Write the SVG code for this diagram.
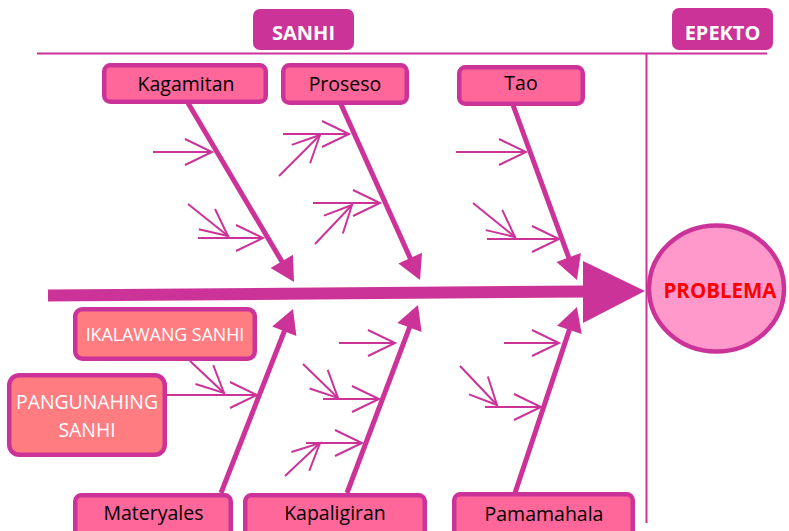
<svg xmlns="http://www.w3.org/2000/svg" width="789" height="531" viewBox="0 0 789 531">
  <defs>
    <style>
      .ink { stroke: #cc3399; }
      .rule { stroke: #cc3399; stroke-width: 2; fill: none; }
      .bone { stroke: #cc3399; stroke-width: 5; fill: none; marker-end: url(#head); }
      .twig { stroke: #cc3399; stroke-width: 2; fill: none; marker-end: url(#vee); }
      .tab { fill: #cc3399; }
      .tab-text { fill: #ffffff; font-family: "Open Sans", "Noto Sans", sans-serif; font-weight: bold; font-size: 20px; text-anchor: middle; }
      .cat { fill: #ff6699; stroke: #cc3399; stroke-width: 4.5; }
      .cat-text { fill: #000000; font-family: "Open Sans", "Noto Sans", sans-serif; font-size: 19.5px; text-anchor: middle; }
      .key { fill: #ff7c80; stroke: #cc3399; stroke-width: 4.5; }
      .key-text { fill: #ffffff; font-family: "Open Sans", "Noto Sans", sans-serif; text-anchor: middle; }
      .goal { fill: #ff99cc; stroke: #cc3399; stroke-width: 4.5; }
      .goal-text { fill: #ff0000; font-family: "Open Sans", "Noto Sans", sans-serif; font-weight: bold; font-size: 20.5px; text-anchor: middle; }
    </style>
    <!-- filled head for the main bones -->
    <marker id="head" markerUnits="userSpaceOnUse" orient="auto" overflow="visible" markerWidth="1" markerHeight="1" refX="0" refY="0">
      <path d="M-2,-13 L22,0 L-2,13 Z" fill="#cc3399"/>
    </marker>
    <!-- open head for the small cause arrows -->
    <marker id="vee" markerUnits="userSpaceOnUse" orient="auto" overflow="visible" markerWidth="1" markerHeight="1" refX="0" refY="0">
      <path d="M-27,-13 L0,0 L-27,13" fill="none" stroke="#cc3399" stroke-width="2"/>
    </marker>
  </defs>

  <rect width="789" height="531" fill="#ffffff"/>

  <!-- header rule and divider -->
  <g id="frame">
    <line class="rule" x1="37" y1="53.5" x2="767" y2="53.5"/>
    <line class="rule" x1="646.5" y1="53.5" x2="646.5" y2="523"/>
  </g>

  <g id="tab-sanhi">
    <rect class="tab" x="253" y="9" width="101" height="41" rx="7"/>
    <text class="tab-text" x="303.5" y="40">SANHI</text>
  </g>
  <g id="tab-epekto">
    <rect class="tab" x="672" y="8" width="101" height="42" rx="7"/>
    <text class="tab-text" x="722.5" y="40">EPEKTO</text>
  </g>

  <!-- connectors: spine, bones and cause arrows -->
  <g id="connectors">
    <line class="ink" x1="48" y1="295.5" x2="586" y2="291.5" stroke-width="12"/>
    <polygon points="583,261 645,291 583,323" fill="#cc3399"/>

    <line class="bone" x1="188" y1="103" x2="282.8" y2="263.1"/>
    <line class="bone" x1="340" y1="102" x2="411" y2="259.9"/>
    <line class="bone" x1="513" y1="105" x2="569.4" y2="259.3"/>
    <line class="bone" x1="221" y1="493" x2="285" y2="329.5"/>
    <line class="bone" x1="347" y1="493" x2="410.2" y2="325.6"/>
    <line class="bone" x1="515" y1="493" x2="570" y2="327.9"/>

    <!-- Kagamitan -->
    <line class="twig" x1="153" y1="152" x2="212" y2="152"/>
    <line class="twig" x1="198" y1="238" x2="263" y2="238"/>
    <line class="twig" x1="188" y1="204" x2="228" y2="236"/>
    <!-- Proseso -->
    <line class="twig" x1="283" y1="134" x2="349" y2="134"/>
    <line class="twig" x1="279" y1="176" x2="320" y2="135"/>
    <line class="twig" x1="313" y1="203" x2="380" y2="203"/>
    <line class="twig" x1="315" y1="244" x2="352" y2="205"/>
    <!-- Tao -->
    <line class="twig" x1="456" y1="152" x2="526" y2="152"/>
    <line class="twig" x1="487" y1="239" x2="559" y2="239"/>
    <line class="twig" x1="473" y1="203" x2="515" y2="237"/>
    <!-- Materyales -->
    <line class="twig" x1="167" y1="395" x2="257" y2="395"/>
    <line class="twig" x1="190" y1="361" x2="224" y2="393"/>
    <!-- Kapaligiran -->
    <line class="twig" x1="339" y1="343" x2="395" y2="343"/>
    <line class="twig" x1="323" y1="399" x2="379" y2="399"/>
    <line class="twig" x1="303" y1="364" x2="338" y2="398"/>
    <line class="twig" x1="306" y1="443" x2="362" y2="443"/>
    <line class="twig" x1="285" y1="476" x2="320" y2="443"/>
    <!-- Pamamahala -->
    <line class="twig" x1="504" y1="343" x2="559" y2="343"/>
    <line class="twig" x1="485" y1="407" x2="541" y2="407"/>
    <line class="twig" x1="460" y1="366" x2="497" y2="405"/>
  </g>

  <!-- category boxes -->
  <g id="kagamitan">
    <rect class="cat" x="104.25" y="65.25" width="161.5" height="36.5" rx="6"/>
    <text class="cat-text" x="186" y="90.5">Kagamitan</text>
  </g>
  <g id="proseso">
    <rect class="cat" x="283.25" y="65.25" width="123.5" height="37.5" rx="6"/>
    <text class="cat-text" x="345" y="91">Proseso</text>
  </g>
  <g id="tao">
    <rect class="cat" x="459.25" y="67.25" width="123.5" height="36.5" rx="6"/>
    <text class="cat-text" x="521" y="90">Tao</text>
  </g>
  <g id="materyales">
    <rect class="cat" x="75.25" y="495.25" width="155.5" height="50" rx="6"/>
    <text class="cat-text" x="153.5" y="520">Materyales</text>
  </g>
  <g id="kapaligiran">
    <rect class="cat" x="245.25" y="495.25" width="179.5" height="50" rx="6"/>
    <text class="cat-text" x="335" y="520">Kapaligiran</text>
  </g>
  <g id="pamamahala">
    <rect class="cat" x="454.25" y="494.25" width="178.5" height="50" rx="6"/>
    <text class="cat-text" x="544" y="520.5">Pamamahala</text>
  </g>

  <!-- legend boxes -->
  <g id="ikalawang-sanhi">
    <rect class="key" x="75.25" y="309.25" width="179.5" height="49.5" rx="7"/>
    <text class="key-text" x="165" y="341" font-size="17.8">IKALAWANG SANHI</text>
  </g>
  <g id="pangunahing-sanhi">
    <rect class="key" x="9.25" y="375.25" width="155.5" height="79.5" rx="10"/>
    <text class="key-text" x="87" y="409" font-size="19.4">PANGUNAHING</text>
    <text class="key-text" x="87" y="437" font-size="19.4">SANHI</text>
  </g>

  <!-- effect -->
  <g id="problema">
    <ellipse class="goal" cx="716.5" cy="288.5" rx="67.5" ry="63"/>
    <text class="goal-text" x="720" y="298">PROBLEMA</text>
  </g>
</svg>
